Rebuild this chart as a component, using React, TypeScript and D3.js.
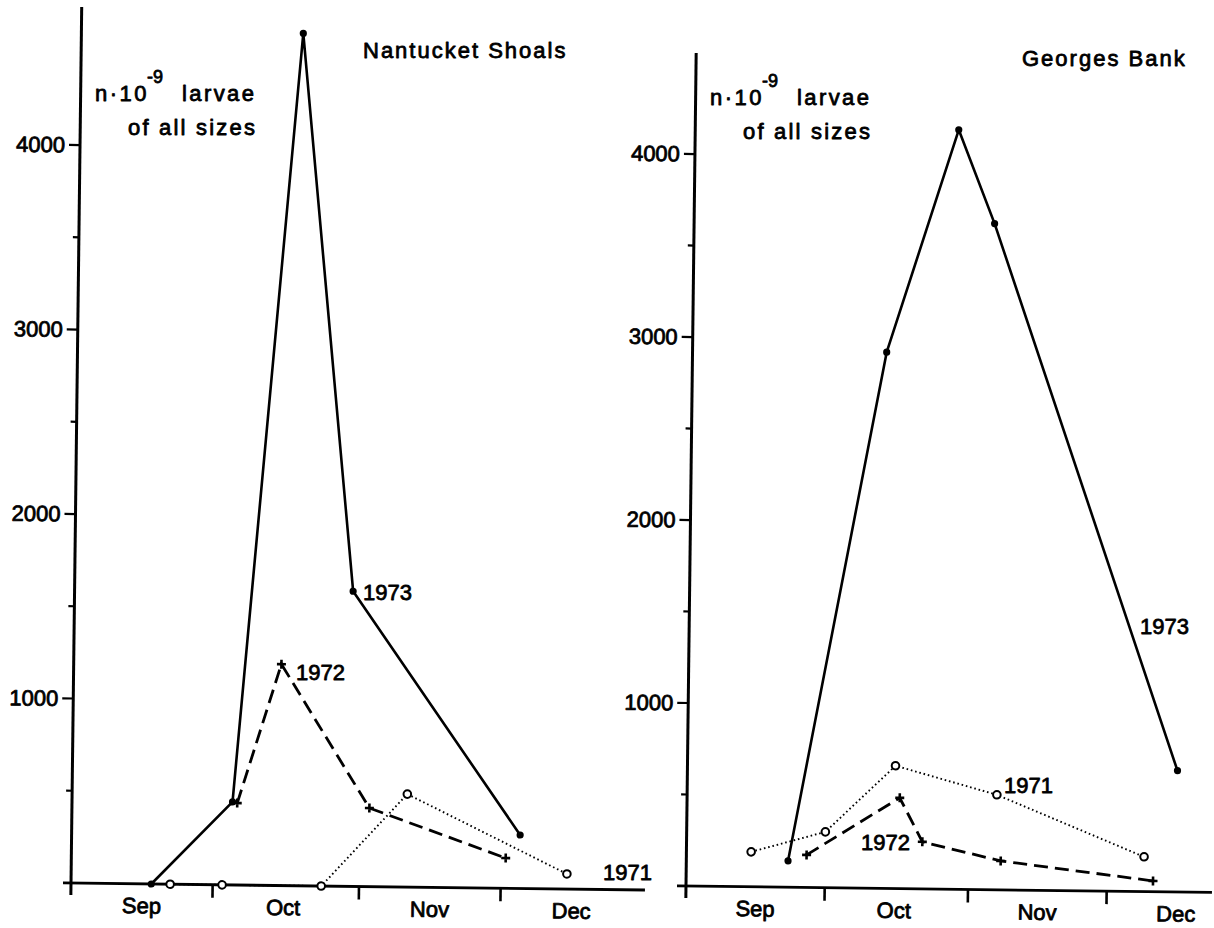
import { useEffect, useRef } from 'react';
import * as d3 from 'd3';

// values in n·10^-9 larvae, dates (MM-DD)
const nsDates1973 = ['09-18', '10-05', '10-18', '10-30', '12-05'];
const nsValues1973 = [0, 450, 4620, 1600, 290];
const nsDates1972 = ['10-06', '10-15', '11-03', '12-02'];
const nsValues1972 = [444, 1200, 426, 164];
const nsDates1971 = ['09-22', '10-03', '10-24', '11-11', '12-15'];
const nsValues1971 = [0, 0, 0, 504, 82];

const gbDates1973 = ['09-23', '10-13', '10-28', '11-05', '12-16'];
const gbValues1973 = [144, 2930, 4150, 3640, 663];
const gbDates1972 = ['09-27', '10-17', '10-22', '11-08', '12-11'];
const gbValues1972 = [178, 496, 257, 158, 59];
const gbDates1971 = ['09-15', '10-01', '10-16', '11-07', '12-09'];
const gbValues1971 = [191, 305, 671, 519, 190];

const yMajor = [1000, 2000, 3000, 4000];
const yMinor = [500, 1500, 2500, 3500];
const monthNames = ['Sep', 'Oct', 'Nov', 'Dec'];
const monthMids = ['09-16', '10-16', '11-16', '12-16'];
const monthBounds = ['10-01', '11-01', '12-01'];

const parseDay = d3.timeParse('%m-%d');
const seasonStart = parseDay('09-01');
const seasonEnd = new Date(1901, 0, 1);

const FONT = '"Liberation Sans", Arial, sans-serif';
const TILT = 0.7; // the scan is slightly rotated

const App = () => {
  const svgRef = useRef(null);

  useEffect(() => {
    const svg = d3.select(svgRef.current);
    svg.selectAll('*').remove();

    const style1973 = { dash: null, width: 2.6, mark: 'dot' };
    const style1972 = { dash: '14 7', width: 2.8, mark: 'plus' };
    const style1971 = { dash: '1.6 2.8', width: 1.9, mark: 'circle' };

    const panels = [
      {
        x0: 71, x1: 647, y0: 883, y4000: 145, top: 7, baseStart: 63, baseEnd: 645,
        series: [
          { dates: nsDates1971, values: nsValues1971, ...style1971 },
          { dates: nsDates1972, values: nsValues1972, ...style1972 },
          { dates: nsDates1973, values: nsValues1973, ...style1973 }
        ]
      },
      {
        x0: 686, x1: 1250, y0: 886, y4000: 154, top: 53, baseStart: 677, baseEnd: 1212,
        series: [
          { dates: gbDates1971, values: gbValues1971, ...style1971 },
          { dates: gbDates1972, values: gbValues1972, ...style1972 },
          { dates: gbDates1973, values: gbValues1973, ...style1973 }
        ]
      }
    ];

    const label = (sel, size = 22) => sel
      .attr('font-family', FONT).attr('font-size', size)
      .attr('fill', '#000').attr('stroke', '#000').attr('stroke-width', 0.8)
      .attr('stroke-linejoin', 'round');

    panels.forEach(p => {
      const g = svg.append('g').attr('transform', `rotate(${TILT},${p.x0},${p.y0})`);
      const x = d3.scaleTime().domain([seasonStart, seasonEnd]).range([p.x0, p.x1]);
      const y = d3.scaleLinear().domain([0, 4000]).range([p.y0, p.y4000]);

      // axes
      g.append('line')
        .attr('x1', p.x0).attr('x2', p.x0).attr('y1', p.top).attr('y2', p.y0 + 12)
        .attr('stroke', '#000').attr('stroke-width', 3);
      g.append('line')
        .attr('x1', p.baseStart).attr('x2', p.baseEnd).attr('y1', p.y0).attr('y2', p.y0)
        .attr('stroke', '#000').attr('stroke-width', 2.8);

      g.selectAll('.ymaj').data(yMajor).enter().append('line')
        .attr('x1', p.x0 - 11).attr('x2', p.x0).attr('y1', d => y(d)).attr('y2', d => y(d))
        .attr('stroke', '#000').attr('stroke-width', 2.2);
      g.selectAll('.ymin').data(yMinor).enter().append('line')
        .attr('x1', p.x0 - 6).attr('x2', p.x0).attr('y1', d => y(d)).attr('y2', d => y(d))
        .attr('stroke', '#000').attr('stroke-width', 2.2);
      label(g.selectAll('.ylab').data(yMajor).enter().append('text')
        .attr('x', p.x0 - 15).attr('y', d => y(d))
        .attr('text-anchor', 'end').attr('dominant-baseline', 'central'))
        .text(d => d);

      g.selectAll('.xtick').data(monthBounds).enter().append('line')
        .attr('x1', d => x(parseDay(d))).attr('x2', d => x(parseDay(d)))
        .attr('y1', p.y0).attr('y2', p.y0 + 13)
        .attr('stroke', '#000').attr('stroke-width', 2.6);
      label(g.selectAll('.xlab').data(monthNames).enter().append('text')
        .attr('x', (d, i) => x(parseDay(monthMids[i])))
        .attr('y', p.y0 + 22)
        .attr('text-anchor', 'middle').attr('dominant-baseline', 'central'))
        .text(d => d);

      // series
      p.series.forEach(s => {
        const pts = s.dates.map((d, i) => [x(parseDay(d)), y(s.values[i])]);
        g.append('path')
          .attr('d', d3.line()(pts))
          .attr('fill', 'none')
          .attr('stroke', '#000')
          .attr('stroke-width', s.width)
          .attr('stroke-dasharray', s.dash)
          .attr('stroke-linejoin', 'round');

        const m = g.append('g');
        pts.forEach(([px, py]) => {
          if (s.mark === 'dot') {
            m.append('circle').attr('cx', px).attr('cy', py).attr('r', 3.6).attr('fill', '#000');
          } else if (s.mark === 'circle') {
            m.append('circle').attr('cx', px).attr('cy', py).attr('r', 3.8)
              .attr('fill', '#fff').attr('stroke', '#000').attr('stroke-width', 2);
          } else {
            m.append('path')
              .attr('d', `M${px - 4.5},${py}H${px + 4.5}M${px},${py - 4.5}V${py + 4.5}`)
              .attr('stroke', '#000').attr('stroke-width', 2.6);
          }
        });
      });
    });

    // titles and annotations sit in page coordinates
    const txt = (tx, ty, str, size = 22) => label(svg.append('text')
      .attr('x', tx).attr('y', ty)
      .attr('dominant-baseline', 'central'), size)
      .text(str);

    txt(363, 50, 'Nantucket  Shoals').attr('letter-spacing', 2);
    txt(1022, 58, 'Georges  Bank').attr('letter-spacing', 2);

    [[95, 93], [710, 97]].forEach(([ax, ay]) => {
      txt(ax, ay, 'n·10').attr('letter-spacing', 2.5);
      txt(ax + 52, ay - 16, '-9', 18);
      txt(ax + 87, ay, 'larvae').attr('letter-spacing', 2.4);
      txt(ax + 33, ay + 34, 'of  all  sizes').attr('letter-spacing', 2.2);
    });

    // year labels
    [
      [363, 592, '1973'], [296, 672, '1972'], [603, 872, '1971'],
      [1140, 626, '1973'], [1004, 785, '1971'], [861, 842, '1972']
    ].forEach(([lx, ly, str]) => txt(lx, ly, str));
  }, []);

  return (
    <svg
      ref={svgRef}
      width="1214"
      height="928"
      style={{ position: 'absolute', left: 0, top: 0, background: '#fff' }}
    />
  );
};

export default App;
